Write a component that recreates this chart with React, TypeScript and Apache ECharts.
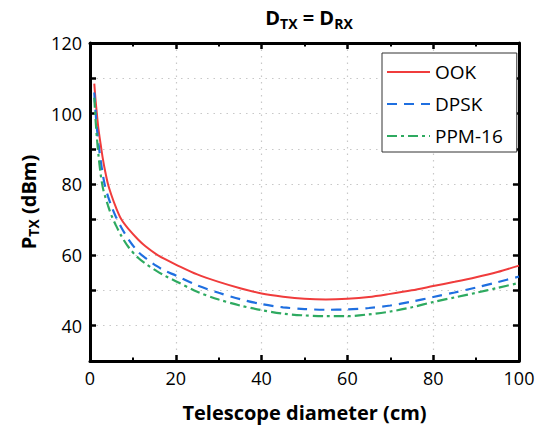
import React, { useEffect, useRef } from "react";
import * as echarts from "echarts";

const diameters = [1, 1.3, 1.6, 2, 2.5, 3, 3.5, 4.2, 5, 6, 7.3, 9, 11.2, 13, 15.5, 17.5, 20, 25, 30, 35, 40, 45, 50, 55, 60, 65, 70, 75, 80, 85, 90, 95, 100];
const ook = [108.5, 103.8, 100, 95.4, 91.2, 87.2, 83.9, 80, 76.9, 73.6, 70.1, 67.3, 64.4, 62.4, 60.2, 58.8, 57.3, 54.5, 52.4, 50.6, 49.1, 48.2, 47.6, 47.4, 47.6, 48.1, 49.0, 50.0, 51.2, 52.4, 53.7, 55.2, 57.0];
const dpsk = [106, 100.4, 96, 91.3, 86.6, 82.7, 79.5, 76.6, 73.8, 70.9, 67.8, 64.4, 60.9, 59.1, 56.9, 55.5, 54.2, 51.4, 49.3, 47.5, 46.1, 45.2, 44.7, 44.5, 44.6, 45.0, 45.7, 46.8, 48.1, 49.4, 50.8, 52.3, 53.9];
const ppm16 = [104.5, 98.3, 93.3, 88.0, 82.7, 79.0, 76.7, 74.0, 71.2, 68.5, 65.4, 62.2, 59.2, 57.5, 55.5, 54.1, 52.6, 49.6, 47.4, 45.7, 44.4, 43.4, 42.9, 42.7, 42.7, 43.2, 44.0, 45.2, 46.7, 48.0, 49.3, 50.7, 52.1];
const seriesNames = ["OOK", "DPSK", "PPM-16"];
const xTicks = { min: 0, max: 100, interval: 20 };
const yTicks = { min: 30, max: 120, interval: 20 };

const FONT = "Open Sans";

export default function App() {
  const ref = useRef<HTMLDivElement>(null);
  useEffect(() => {
    if (!ref.current) return;
    const chart = echarts.init(ref.current, undefined, { renderer: "svg" });
    const pair = (arr: number[]) => diameters.map((d, i) => [d, arr[i]]);
    const axisCommon = {
      type: "value" as const,
      axisLine: { show: true, onZero: false, lineStyle: { color: "#000", width: 3 } },
      axisTick: { show: true, inside: true, length: 6, lineStyle: { color: "#000", width: 2.5 } },
      minorTick: { show: true, splitNumber: 2, length: 3.5, lineStyle: { color: "#000", width: 2 } },
      axisLabel: { color: "#000", fontSize: 18, fontFamily: FONT, margin: 8 },
    };
    const gridLine = { show: true, lineStyle: { color: "#c8c8c8", type: [1.5, 5], width: 1.2 } };
    const xMain = {
      ...axisCommon,
      min: xTicks.min,
      max: xTicks.max,
      interval: xTicks.interval,
      position: "bottom",
      name: "Telescope diameter (cm)",
      nameLocation: "middle",
      nameGap: 41,
      nameTextStyle: { color: "#000", fontSize: 20, fontWeight: "bold", fontFamily: FONT },
      splitLine: gridLine,
    };
    const yMain = {
      ...axisCommon,
      min: yTicks.min,
      max: yTicks.max,
      interval: 10,
      position: "left",
      axisLabel: {
        ...axisCommon.axisLabel,
        formatter: (v: number) => (v % yTicks.interval === 0 && v > yTicks.min ? String(v) : ""),
      },
      name: "{b|P}{s|TX}{b| (dBm)}",
      nameLocation: "middle",
      nameGap: 46,
      nameTextStyle: {
        color: "#000",
        fontFamily: FONT,
        rich: {
          b: { fontSize: 20, fontWeight: "bold", fontFamily: FONT, color: "#000", lineHeight: 24, verticalAlign: "middle" },
          s: { fontSize: 14, fontWeight: "bold", fontFamily: FONT, color: "#000", lineHeight: 12, verticalAlign: "bottom" },
        },
      },
      splitLine: gridLine,
      minorTick: { show: false },
    };
    const lineBase = {
      type: "line",
      smooth: 0.3,
      showSymbol: false,
      symbol: "none",
    };
    const option = {
      animation: false,
      backgroundColor: "#fff",
      title: {
        text: "{b|D}{s|TX}{b| = D}{s|RX}",
        left: 304,
        textAlign: "center",
        top: 0,
        textStyle: {
          rich: {
            b: { fontSize: 20, fontWeight: "bold", fontFamily: FONT, color: "#000", lineHeight: 25, verticalAlign: "middle" },
            s: { fontSize: 14, fontWeight: "bold", fontFamily: FONT, color: "#000", lineHeight: 11, verticalAlign: "bottom" },
          },
        },
      },
      grid: { left: 90, right: 28, top: 43, bottom: 67, show: false },
      legend: {
        data: seriesNames,
        orient: "vertical",
        left: 382,
        top: 53,
        itemWidth: 43,
        itemHeight: 14,
        itemGap: 12,
        padding: [9, 14, 6, 4],
        backgroundColor: "#fff",
        borderColor: "#333",
        borderWidth: 1,
        borderRadius: 0,
        itemStyle: { opacity: 0 },
        textStyle: { color: "#000", fontSize: 19, fontFamily: FONT, lineHeight: 20 },
      },
      xAxis: [
        xMain,
        {
          ...axisCommon,
          min: xTicks.min,
          max: xTicks.max,
          interval: xTicks.interval,
          position: "top",
          axisLabel: { show: false },
          splitLine: { show: false },
        },
      ],
      yAxis: [
        yMain,
        {
          ...axisCommon,
          min: yTicks.min,
          max: yTicks.max,
          interval: 10,
          position: "right",
          axisLabel: { show: false },
          splitLine: { show: false },
          minorTick: { show: false },
        },
      ],
      series: [
        {
          ...lineBase,
          name: seriesNames[0],
          data: pair(ook),
          color: "#F03C3C",
          lineStyle: { color: "#F03C3C", width: 2 },
        },
        {
          ...lineBase,
          name: seriesNames[1],
          data: pair(dpsk),
          color: "#1F6FE0",
          lineStyle: { color: "#1F6FE0", width: 2.2, type: [10, 7] },
        },
        {
          ...lineBase,
          name: seriesNames[2],
          data: pair(ppm16),
          color: "#2EAA60",
          lineStyle: { color: "#2EAA60", width: 2.2, type: [10, 4, 3, 4] },
        },
      ],
    };
    chart.setOption(option as any);
    return () => chart.dispose();
  }, []);
  return <div ref={ref} style={{ width: 547, height: 428, position: "absolute", left: 0, top: 0 }} />;
}
